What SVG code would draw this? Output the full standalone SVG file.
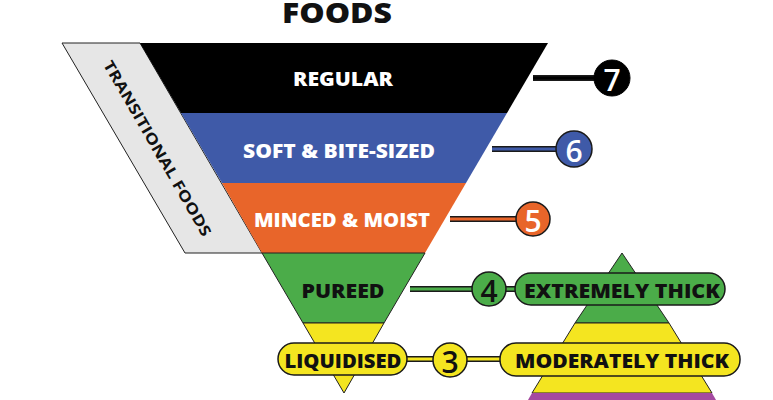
<svg xmlns="http://www.w3.org/2000/svg" width="773" height="400" viewBox="0 0 773 400">
<style>
text{font-family:"Open Sans","DejaVu Sans",sans-serif;font-weight:800;text-anchor:middle;dominant-baseline:central}
.w{fill:#fff;font-size:20px}.k{fill:#111;font-size:20px}.n{font-size:30px;font-weight:600}
.ln{stroke:#1a1a1a;stroke-width:6;fill:none}
.o{stroke:#1a1a1a;stroke-width:1.5}
</style>
<rect width="773" height="400" fill="#fff"/>
<text x="337" y="12" class="k" style="font-size:28px" textLength="110" lengthAdjust="spacingAndGlyphs">FOODS</text>
<g id="transitional"><polygon points="62,43 140,43 262,253 185,253" fill="#e6e6e6" stroke="#222" stroke-width="1"/>
<text transform="translate(158,148) rotate(60)" class="k" style="font-size:15px;font-weight:700" textLength="200" lengthAdjust="spacingAndGlyphs">TRANSITIONAL FOODS</text></g>
<g id="connectors">
<path class="ln" d="M533,78 H596"/><path d="M533,78 H596" stroke="#000" stroke-width="3"/>
<path class="ln" d="M492,149 H558"/><path d="M492,149 H558" stroke="#3f5aa8" stroke-width="3"/>
<path class="ln" d="M450,219 H518"/><path d="M450,219 H518" stroke="#e8652a" stroke-width="3"/>
<path class="ln" d="M410,289 H520"/><path d="M410,289 H520" stroke="#4bac49" stroke-width="3"/>
<path class="ln" d="M400,359 H505"/><path d="M400,359 H505" stroke="#f4e520" stroke-width="3"/>
</g>
<g id="regular"><polygon points="140,43 548,43 507,113 181,113" fill="#000"/><text x="343" y="78" class="w" textLength="100" lengthAdjust="spacingAndGlyphs">REGULAR</text></g>
<g id="soft"><polygon points="181,113 507,113 466,183 222,183" fill="#3f5aa8"/><text x="339" y="150" class="w" textLength="192" lengthAdjust="spacingAndGlyphs">SOFT &amp; BITE-SIZED</text></g>
<g id="minced"><polygon points="222,183 466,183 425,253 262,253" fill="#e8652a"/><text x="342" y="219" class="w" textLength="176" lengthAdjust="spacingAndGlyphs">MINCED &amp; MOIST</text></g>
<g id="pureed"><polygon points="262,253 425,253 384,323 303,323" fill="#4bac49" stroke="#222" stroke-width="1"/><text x="343" y="290" class="k" textLength="83" lengthAdjust="spacingAndGlyphs">PUREED</text></g>
<g id="liquidised"><polygon points="303,323 384,323 344,393" fill="#f4e520" stroke="#222" stroke-width="1"/>
<rect x="278" y="343" width="129" height="32" rx="16" fill="#f4e520" class="o"/><text x="343" y="360" class="k" textLength="117" lengthAdjust="spacingAndGlyphs">LIQUIDISED</text></g>
<g id="drinks"><polygon points="622,253 669,323 575,323" fill="#4bac49" stroke="#222" stroke-width="1"/>
<polygon points="575,323 669,323 712,393 532,393" fill="#f4e520" stroke="#222" stroke-width="1"/>
<polygon points="532,393 712,393 716,400 528,400" fill="#a44aa0"/></g>
<g id="extremely"><rect x="515" y="273" width="210" height="32" rx="16" fill="#4bac49" class="o"/><text x="622" y="290" class="k" textLength="196" lengthAdjust="spacingAndGlyphs">EXTREMELY THICK</text></g>
<g id="moderately"><rect x="500" y="343" width="240" height="33" rx="16" fill="#f4e520" class="o"/><text x="622" y="360" class="k" textLength="214" lengthAdjust="spacingAndGlyphs">MODERATELY THICK</text></g>
<g id="n7"><circle cx="612" cy="78" r="18" fill="#000" stroke="#000"/><text x="612" y="79" class="w n">7</text></g>
<g id="n6"><circle cx="574" cy="149" r="18" fill="#3f5aa8" class="o"/><text x="574" y="150" class="w n">6</text></g>
<g id="n5"><circle cx="533" cy="219" r="17" fill="#e8652a" class="o"/><text x="533" y="220" class="w n">5</text></g>
<g id="n4"><circle cx="489" cy="289" r="17" fill="#4bac49" class="o"/><text x="489" y="290" class="k n">4</text></g>
<g id="n3"><circle cx="450" cy="360" r="17" fill="#f4e520" class="o"/><text x="450" y="361" class="k n">3</text></g>
</svg>
